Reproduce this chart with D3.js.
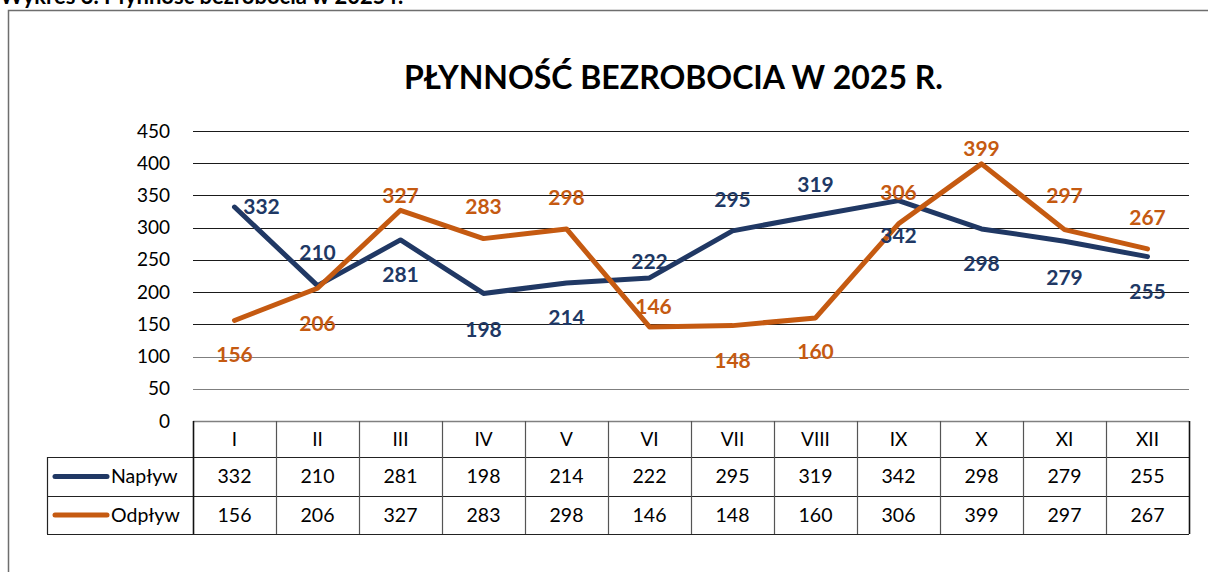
<!DOCTYPE html>
<html>
<head>
<meta charset="utf-8">
<script src="https://cdn.jsdelivr.net/npm/d3@7"></script>
<style>
	body { margin: 0; background: #fff; }
	svg { display: block; font-family: Lato, "Open Sans", sans-serif; }
</style>
</head>
<body>
<div id="contents"></div>
<script>
// dane z wykresu
var months = ['I', 'II', 'III', 'IV', 'V', 'VI', 'VII', 'VIII', 'IX', 'X', 'XI', 'XII'];
var naplyw = [332, 210, 281, 198, 214, 222, 295, 319, 342, 298, 279, 255];
var odplyw = [156, 206, 327, 283, 298, 146, 148, 160, 306, 399, 297, 267];
var yTicks = [0, 50, 100, 150, 200, 250, 300, 350, 400, 450];

// polozenie etykiet danych (przesuniecie od punktu)
var naplywLabelDy = [0, -33, 35, 36, 35, -16, -31, -31, 35, 35, 36, 35];
var naplywLabelDx = [27, 0, 0, 0, 0, 0, 0, 0, 0, 0, 0, 0];
var odplywLabelDy = [34, 35, -15, -32, -31, -20, 35, 34, -31, -15, -34, -31];
var odplywLabelDx = [0, 0, 0, 0, 0, 4, 0, 0, 0, 0, 0, 0];

var W = 1208, H = 572;
var NAVY = '#203864', ORANGE = '#C55A11';

var svg = d3.select('#contents')
	.append('svg')
	.attr('width', W)
	.attr('height', H);

// naglowek (przyciety u gory, tak jak w oryginale)
svg.append('text')
	.attr('x', 0)
	.attr('y', 4)
	.attr('font-size', 22)
	.attr('font-weight', 'bold')
	.text('Wykres 3. Płynność bezrobocia w 2025 r.');

// ramka wykresu
svg.append('rect')
	.attr('x', 8.5)
	.attr('y', 10.5)
	.attr('width', W + 20)
	.attr('height', H + 20)
	.attr('fill', 'none')
	.attr('stroke', '#6e6e6e')
	.attr('stroke-width', 1.5);

svg.append('text')
	.attr('x', 673.5)
	.attr('y', 89)
	.attr('text-anchor', 'middle')
	.attr('font-size', 32)
	.attr('font-weight', 'bold')
	.text('PŁYNNOŚĆ BEZROBOCIA W 2025 R.');

var x = d3.scaleBand()
	.domain(months)
	.range([193, 1189]);

var y = d3.scaleLinear()
	.domain([0, 450])
	.range([421, 131]);

// linie siatki
svg.append('g')
	.selectAll('line')
	.data(yTicks.filter(function(d) { return d > 0; }))
	.enter()
	.append('line')
	.attr('x1', 193)
	.attr('x2', 1189)
	.attr('y1', function(d) { return Math.round(y(d)) + 0.5; })
	.attr('y2', function(d) { return Math.round(y(d)) + 0.5; })
	.attr('stroke', function(d) { return d <= 100 ? '#7f7f7f' : '#1a1a1a'; })
	.attr('stroke-width', 1);

// os Y
var yAxis = svg.append('g')
	.attr('transform', 'translate(170,0)')
	.call(d3.axisLeft(y).tickValues(yTicks).tickSize(0).tickPadding(0));
yAxis.select('.domain').remove();
yAxis.selectAll('text')
	.attr('font-family', 'Lato, sans-serif')
	.attr('font-size', 19)
	.attr('fill', '#000');

// tabela danych
var table = svg.append('g');
var rowTop = [421, 457, 496, 534];
var colX = months.map(function(m) { return x(m); }).concat([1189]);

table.append('g')
	.selectAll('text')
	.data(months)
	.enter()
	.append('text')
	.attr('x', function(d) { return x(d) + x.bandwidth() / 2; })
	.attr('y', 439)
	.attr('dy', '0.35em')
	.attr('text-anchor', 'middle')
	.attr('font-size', 19)
	.text(function(d) { return d; });

var series = [
	{ name: 'Napływ', values: naplyw, color: NAVY, dy: naplywLabelDy, dx: naplywLabelDx },
	{ name: 'Odpływ', values: odplyw, color: ORANGE, dy: odplywLabelDy, dx: odplywLabelDx }
];

series.forEach(function(s, si) {
	var cy = (rowTop[si + 1] + rowTop[si + 2]) / 2;
	table.append('g')
		.selectAll('text')
		.data(s.values)
		.enter()
		.append('text')
		.attr('x', function(d, i) { return x(months[i]) + x.bandwidth() / 2; })
		.attr('y', cy)
		.attr('dy', '0.35em')
		.attr('text-anchor', 'middle')
		.attr('font-size', 19.5)
		.text(function(d) { return d; });
	table.append('line')
		.attr('x1', 55)
		.attr('x2', 107)
		.attr('y1', cy)
		.attr('y2', cy)
		.attr('stroke', s.color)
		.attr('stroke-width', 5)
		.attr('stroke-linecap', 'round');
	table.append('text')
		.attr('x', 111)
		.attr('y', cy)
		.attr('dy', '0.35em')
		.attr('font-size', 19.5)
		.text(s.name);
});

// siatka tabeli
var gridColor = '#222';
table.append('line')
	.attr('x1', 193).attr('x2', 1189)
	.attr('y1', 421.5).attr('y2', 421.5)
	.attr('stroke', '#808080').attr('stroke-width', 1.5);
[457, 496, 534].forEach(function(yy) {
	table.append('line')
		.attr('x1', 47).attr('x2', 1189)
		.attr('y1', yy + 0.5).attr('y2', yy + 0.5)
		.attr('stroke', gridColor).attr('stroke-width', 1.2);
});
colX.forEach(function(xx, i) {
	table.append('line')
		.attr('x1', xx + 0.5).attr('x2', xx + 0.5)
		.attr('y1', 421).attr('y2', 534)
		.attr('stroke', i == 0 || i == 12 ? '#111' : '#555')
		.attr('stroke-width', i == 0 || i == 12 ? 1.6 : 1.2);
});
table.append('line')
	.attr('x1', 47.5).attr('x2', 47.5)
	.attr('y1', 457).attr('y2', 534)
	.attr('stroke', gridColor).attr('stroke-width', 1.2);

// linie serii
var line = d3.line()
	.x(function(d, i) { return x(months[i]) + x.bandwidth() / 2; })
	.y(function(d) { return y(d); });

series.forEach(function(s) {
	svg.append('path')
		.datum(s.values)
		.attr('d', line)
		.attr('fill', 'none')
		.attr('stroke', s.color)
		.attr('stroke-width', 5)
		.attr('stroke-linejoin', 'round')
		.attr('stroke-linecap', 'round');
});

// etykiety danych
series.forEach(function(s) {
	svg.append('g')
		.selectAll('text')
		.data(s.values)
		.enter()
		.append('text')
		.attr('x', function(d, i) { return x(months[i]) + x.bandwidth() / 2 + s.dx[i]; })
		.attr('y', function(d, i) { return y(d) + s.dy[i]; })
		.attr('dy', '0.35em')
		.attr('text-anchor', 'middle')
		.attr('font-size', 21)
		.attr('font-weight', 'bold')
		.attr('fill', s.color)
		.text(function(d) { return d; });
});
</script>
</body>
</html>
